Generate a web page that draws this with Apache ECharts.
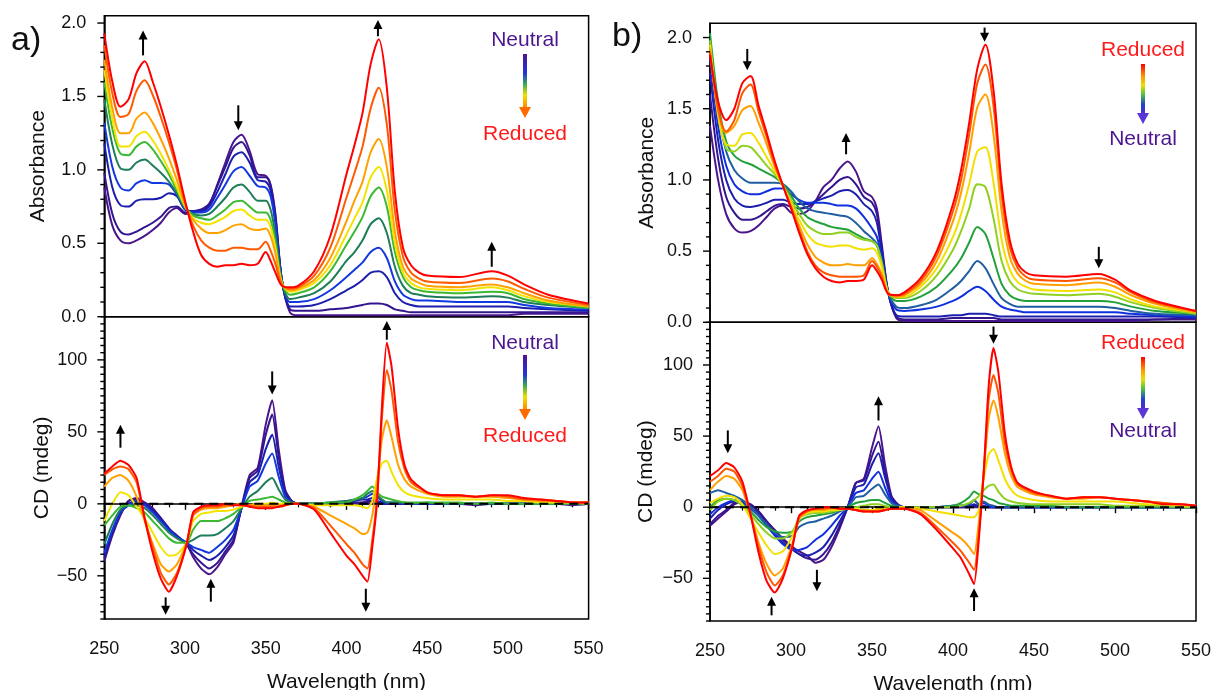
<!DOCTYPE html>
<html><head><meta charset="utf-8">
<script src="https://cdn.jsdelivr.net/npm/echarts@6/dist/echarts.min.js"></script>
<style>html,body{margin:0;padding:0;background:#fff}#c{width:1213px;height:690px}</style>
</head><body><div id="c"></div>
<script>
// ---------- wavelength grids ----------
const WL_ABS = [250,255,260,265,270,275,280,285,290,295,300,
  305,310,315,320,325,330,335,340,345,350,
  353,356,360,365,370,
  380,390,400,405,410,415,420,425,430,435,440,445,450,
  470,490,500,510,525,550];
const WL_CD = [250,255,260,265,270,275,280,285,290,295,301,
  305,310,315,320,325,330,335,340,345,350,
  354,358,362,366,370,
  380,390,400,405,410,
  413,416,419,422,425,428,
  432,436,440,
  450,460,470,480,490,500,510,520,530,540,550];

// ---------- panel a) absorbance, step 1 (neutral) -> step 10 (reduced) ----------
const absA1 = [0.88,0.62,0.52,0.50,0.52,0.55,0.59,0.64,0.71,0.74,0.70,
  0.71,0.72,0.76,0.90,1.05,1.19,1.24,1.13,0.97,0.96,
  0.90,0.70,0.25,0.03,0.01,
  0.01,0.01,0.01,0.01,0.01,0.01,0.01,0.01,0.01,0.01,0.01,0.01,0.01,
  0.01,0.01,0.01,0.02,0.02,0.02];
const absA2 = [0.98,0.70,0.58,0.56,0.58,0.61,0.64,0.68,0.74,0.75,0.71,
  0.72,0.73,0.77,0.89,1.02,1.15,1.19,1.10,0.95,0.95,
  0.89,0.68,0.25,0.05,0.04,
  0.04,0.05,0.06,0.07,0.08,0.09,0.09,0.08,0.05,0.04,0.03,0.03,0.03,
  0.03,0.03,0.03,0.03,0.03,0.03];
const absA3 = [1.18,0.88,0.76,0.75,0.79,0.80,0.80,0.81,0.84,0.82,0.73,
  0.72,0.72,0.75,0.85,0.97,1.09,1.12,1.05,0.93,0.92,
  0.86,0.66,0.25,0.07,0.07,
  0.08,0.12,0.18,0.21,0.25,0.30,0.31,0.27,0.16,0.10,0.08,0.07,0.07,
  0.07,0.07,0.07,0.06,0.05,0.04];
const absA4 = [1.32,1.02,0.88,0.86,0.91,0.93,0.91,0.91,0.90,0.83,0.73,
  0.71,0.71,0.73,0.81,0.90,0.99,1.02,0.96,0.89,0.88,
  0.82,0.63,0.25,0.10,0.10,
  0.12,0.18,0.27,0.32,0.37,0.44,0.47,0.40,0.24,0.15,0.12,0.11,0.11,
  0.10,0.10,0.10,0.08,0.06,0.05];
const absA5 = [1.48,1.17,1.01,1.00,1.05,1.07,1.03,0.98,0.92,0.84,0.74,
  0.70,0.69,0.70,0.75,0.81,0.88,0.90,0.85,0.79,0.79,
  0.73,0.56,0.24,0.12,0.13,
  0.16,0.24,0.38,0.44,0.52,0.63,0.67,0.57,0.34,0.21,0.16,0.15,0.14,
  0.13,0.14,0.13,0.10,0.08,0.06];
const absA6 = [1.60,1.28,1.11,1.10,1.16,1.19,1.14,1.06,0.97,0.86,0.75,
  0.69,0.67,0.66,0.69,0.73,0.78,0.79,0.75,0.71,0.71,
  0.66,0.51,0.23,0.15,0.16,
  0.20,0.31,0.49,0.58,0.68,0.82,0.88,0.75,0.44,0.27,0.20,0.18,0.17,
  0.16,0.17,0.16,0.12,0.09,0.06];
const absA7 = [1.68,1.35,1.16,1.16,1.23,1.26,1.20,1.11,1.00,0.88,0.75,
  0.67,0.64,0.63,0.65,0.68,0.72,0.73,0.69,0.66,0.66,
  0.61,0.47,0.23,0.17,0.18,
  0.23,0.35,0.56,0.67,0.78,0.95,1.02,0.86,0.50,0.30,0.23,0.20,0.19,
  0.18,0.20,0.18,0.14,0.10,0.07];
const absA8 = [1.75,1.42,1.25,1.25,1.35,1.39,1.32,1.21,1.08,0.93,0.76,
  0.66,0.60,0.57,0.57,0.59,0.62,0.63,0.60,0.59,0.60,
  0.55,0.43,0.22,0.18,0.19,
  0.25,0.40,0.65,0.79,0.92,1.12,1.21,1.02,0.58,0.34,0.26,0.23,0.21,
  0.20,0.22,0.20,0.16,0.11,0.07];
const absA9 = [1.85,1.52,1.36,1.38,1.54,1.61,1.51,1.36,1.19,1.00,0.78,
  0.62,0.52,0.47,0.45,0.45,0.47,0.47,0.46,0.46,0.51,
  0.45,0.36,0.22,0.19,0.20,
  0.28,0.47,0.81,0.98,1.16,1.42,1.56,1.31,0.72,0.41,0.30,0.26,0.24,
  0.23,0.26,0.24,0.19,0.13,0.08];
const absA10 = [1.93,1.60,1.43,1.48,1.66,1.74,1.60,1.43,1.24,1.03,0.79,
  0.58,0.42,0.36,0.34,0.35,0.35,0.36,0.35,0.36,0.44,
  0.38,0.30,0.21,0.20,0.21,
  0.31,0.55,0.97,1.17,1.39,1.72,1.89,1.56,0.85,0.47,0.35,0.30,0.28,
  0.27,0.31,0.28,0.22,0.15,0.09];

// ---------- panel a) CD ----------
const cdA1 = [-40,-22,-8,2,4,1,-3,-10,-17,-23,-28,
  -37,-45,-49,-44,-35,-27,-2,20,25,55,
  72,38,10,2,0,
  0,-1,0,0,1,
  1,0,0,0,0,0,
  0,0,0,
  0,0,0,-1,0,0,0,0,0,-1,0];
const cdA2 = [-38,-20,-6,2,3,0,-4,-10,-17,-22,-28,
  -35,-41,-45,-41,-33,-25,-3,18,23,48,
  62,33,9,2,0,
  0,0,0,1,1,
  2,2,1,0,0,0,
  0,0,0,
  0,0,0,0,0,0,0,0,0,0,0];
const cdA3 = [-36,-19,-6,0,2,0,-5,-11,-18,-23,-27,
  -32,-36,-39,-36,-30,-22,-3,15,20,38,
  48,26,7,2,0,
  0,0,1,2,3,
  3,4,2,1,0,0,
  0,0,0,
  0,0,0,0,0,0,0,0,0,0,0];
const cdA4 = [-34,-18,-6,-1,1,-1,-6,-12,-18,-23,-27,
  -30,-32,-34,-30,-25,-18,-3,12,16,28,
  35,19,5,1,0,
  0,1,2,3,4,
  5,7,5,2,1,1,
  1,0,0,
  0,0,0,0,0,0,0,0,0,0,0];
const cdA5 = [-28,-14,-4,-1,-1,-3,-8,-14,-20,-24,-27,
  -25,-22,-22,-21,-17,-12,-3,5,9,15,
  18,10,3,1,0,
  0,1,2,3,4,
  7,9,6,3,1,1,
  1,1,0,
  1,0,0,0,0,0,0,0,0,0,0];
const cdA6 = [-15,-8,-2,-1,-3,-6,-12,-18,-24,-27,-27,
  -18,-12,-12,-12,-10,-7,-2,2,3,4,
  5,3,1,0,0,
  0,1,1,3,6,
  9,12,8,5,4,3,
  2,1,1,
  1,1,1,0,1,0,0,0,0,0,0];
const cdA7 = [-12,0,8,6,-2,-10,-20,-30,-36,-35,-27,
  -12,-7,-6,-5,-5,-4,-2,-1,0,0,
  1,0,0,0,0,
  -1,-1,-1,-1,-2,
  -3,2,18,28,30,22,
  13,8,6,
  4,3,3,3,3,2,2,1,1,1,0];
const cdA8 = [12,18,20,16,5,-12,-28,-42,-47,-42,-27,
  -8,-4,-3,-3,-2,-1,0,-1,-1,-1,
  -1,-1,-1,0,0,
  -2,-8,-14,-17,-21,
  -20,-8,15,45,58,46,
  27,17,12,
  7,5,5,5,5,4,3,2,2,1,1];
const cdA9 = [20,24,26,24,15,-10,-30,-48,-56,-48,-28,
  -8,-3,-2,-2,-1,-1,0,-1,-2,-2,
  -2,-2,-1,0,0,
  -3,-15,-28,-34,-42,
  -45,-25,5,60,93,78,
  43,24,15,
  8,6,6,5,6,5,3,3,2,1,1];
const cdA10 = [21,26,30,27,18,-10,-34,-52,-61,-50,-28,
  -6,-2,-1,-1,0,-1,-1,-2,-3,-3,
  -3,-2,-1,0,0,
  -4,-20,-36,-42,-50,
  -54,-30,2,68,112,95,
  52,27,17,
  8,6,6,5,6,6,4,3,2,1,1];

// ---------- panel b) absorbance, step 1 (neutral) -> step 11 (reduced) ----------
const absB1 = [1.38,1.00,0.76,0.66,0.63,0.64,0.68,0.74,0.80,0.82,0.77,
  0.76,0.78,0.85,0.95,1.00,1.08,1.13,1.06,0.92,0.88,
  0.80,0.55,0.21,0.03,0.01,
  0.01,0.01,0.01,0.01,0.01,0.01,0.01,0.01,0.01,0.01,0.01,0.01,0.01,
  0.01,0.01,0.01,0.01,0.02,0.02];
const absB2 = [1.60,1.15,0.88,0.77,0.72,0.72,0.74,0.78,0.82,0.83,0.81,
  0.80,0.81,0.85,0.90,0.95,1.00,1.02,0.97,0.88,0.84,
  0.76,0.52,0.21,0.04,0.02,
  0.02,0.02,0.03,0.03,0.03,0.03,0.03,0.03,0.02,0.02,0.02,0.02,0.02,
  0.02,0.02,0.02,0.02,0.02,0.03];
const absB3 = [1.75,1.28,1.00,0.87,0.82,0.81,0.82,0.84,0.86,0.86,0.84,
  0.83,0.83,0.85,0.87,0.89,0.92,0.93,0.90,0.83,0.78,
  0.70,0.49,0.21,0.05,0.04,
  0.04,0.04,0.05,0.05,0.06,0.06,0.06,0.05,0.04,0.04,0.04,0.04,0.04,
  0.04,0.04,0.04,0.04,0.04,0.03];
const absB4 = [1.85,1.38,1.10,0.97,0.92,0.90,0.90,0.92,0.94,0.94,0.90,
  0.86,0.84,0.84,0.84,0.83,0.82,0.82,0.80,0.74,0.66,
  0.60,0.46,0.21,0.09,0.08,
  0.09,0.11,0.15,0.18,0.22,0.25,0.22,0.16,0.11,0.09,0.08,0.07,0.07,
  0.07,0.07,0.07,0.06,0.05,0.04];
const absB5 = [1.95,1.48,1.20,1.07,1.01,0.98,0.98,0.98,0.98,0.97,0.92,
  0.85,0.80,0.78,0.77,0.76,0.75,0.74,0.70,0.64,0.59,
  0.55,0.43,0.21,0.11,0.10,
  0.12,0.16,0.24,0.29,0.36,0.43,0.38,0.27,0.17,0.13,0.11,0.11,0.11,
  0.11,0.11,0.10,0.08,0.06,0.05];
const absB6 = [2.03,1.55,1.27,1.17,1.13,1.11,1.08,1.05,1.02,0.97,0.89,
  0.80,0.74,0.71,0.69,0.67,0.66,0.65,0.62,0.59,0.57,
  0.54,0.42,0.21,0.15,0.15,
  0.18,0.25,0.37,0.45,0.56,0.67,0.62,0.45,0.27,0.19,0.16,0.15,0.15,
  0.15,0.15,0.14,0.11,0.08,0.06];
const absB7 = [1.98,1.48,1.22,1.20,1.24,1.23,1.17,1.10,1.04,0.96,0.86,
  0.76,0.68,0.64,0.62,0.62,0.63,0.63,0.60,0.58,0.57,
  0.54,0.42,0.21,0.17,0.17,
  0.22,0.33,0.51,0.64,0.80,0.97,0.95,0.73,0.43,0.29,0.23,0.21,0.20,
  0.19,0.20,0.18,0.14,0.10,0.06];
const absB8 = [1.95,1.45,1.25,1.24,1.32,1.33,1.26,1.16,1.06,0.96,0.84,
  0.72,0.62,0.56,0.54,0.53,0.54,0.54,0.52,0.51,0.52,
  0.49,0.39,0.21,0.18,0.18,
  0.25,0.38,0.60,0.76,0.97,1.20,1.23,0.98,0.58,0.37,0.28,0.25,0.23,
  0.22,0.23,0.21,0.16,0.11,0.07];
const absB9 = [1.92,1.48,1.33,1.38,1.49,1.52,1.40,1.25,1.09,0.96,0.82,
  0.68,0.55,0.46,0.42,0.40,0.40,0.41,0.40,0.40,0.45,
  0.41,0.34,0.20,0.18,0.19,
  0.27,0.43,0.71,0.91,1.19,1.51,1.60,1.32,0.78,0.46,0.34,0.29,0.27,
  0.26,0.28,0.25,0.19,0.13,0.07];
const absB10 = [1.90,1.50,1.34,1.42,1.61,1.67,1.48,1.30,1.11,0.96,0.81,
  0.65,0.50,0.40,0.35,0.33,0.32,0.32,0.32,0.33,0.43,
  0.39,0.32,0.20,0.19,0.20,
  0.29,0.47,0.78,1.00,1.32,1.68,1.81,1.52,0.90,0.53,0.38,0.32,0.30,
  0.29,0.31,0.28,0.21,0.14,0.08];
const absB11 = [1.88,1.55,1.42,1.50,1.68,1.73,1.52,1.33,1.13,0.96,0.80,
  0.63,0.48,0.38,0.32,0.29,0.28,0.29,0.29,0.30,0.40,
  0.36,0.30,0.20,0.19,0.21,
  0.31,0.50,0.83,1.07,1.40,1.78,1.95,1.63,0.97,0.58,0.41,0.35,0.33,
  0.32,0.34,0.30,0.22,0.15,0.08];

// ---------- panel b) CD ----------
const cdB1 = [-13,-8,-3,2,4,2,-3,-10,-16,-22,-28,
  -31,-34,-39,-37,-28,-15,0,17,20,42,
  57,30,8,2,0,
  0,0,0,0,0,
  0,0,0,0,0,0,
  0,0,0,
  0,0,0,0,0,0,0,0,0,0,0];
const cdB2 = [-12,-6,-2,3,4,2,-3,-10,-17,-23,-29,
  -33,-36,-37,-33,-25,-13,0,17,19,36,
  46,25,7,1,0,
  0,0,0,0,0,
  1,0,0,0,0,0,
  0,0,0,
  0,0,0,0,0,0,0,0,0,0,0];
const cdB3 = [-8,-2,2,4,3,0,-5,-12,-19,-25,-30,
  -33,-34,-32,-28,-20,-10,0,14,16,30,
  38,21,6,1,0,
  0,0,0,1,1,
  2,1,1,0,0,0,
  0,0,0,
  0,0,0,0,0,0,0,0,0,0,0];
const cdB4 = [-5,0,3,5,3,-1,-6,-13,-20,-26,-30,
  -30,-28,-23,-19,-13,-6,0,10,12,20,
  25,14,4,1,0,
  0,0,1,1,2,
  5,2,3,1,0,0,
  0,0,0,
  0,0,0,0,0,0,0,0,0,0,0];
const cdB5 = [10,12,10,8,5,0,-6,-12,-18,-21,-20,
  -14,-11,-10,-8,-6,-3,0,7,8,13,
  16,9,3,1,0,
  0,0,1,1,2,
  5,2,4,2,1,0,
  0,0,0,
  0,0,0,0,0,0,0,0,0,0,0];
const cdB6 = [0,5,6,5,2,-3,-9,-14,-17,-18,-17,
  -10,-7,-6,-5,-4,-2,0,3,4,5,
  5,3,1,0,0,
  0,0,1,3,7,
  11,9,8,6,5,3,
  2,1,1,
  1,1,0,0,0,0,0,0,0,0,0];
const cdB7 = [-2,4,6,5,1,-5,-12,-18,-22,-22,-17,
  -8,-5,-4,-4,-3,-2,-1,0,1,2,
  2,1,0,0,0,
  0,0,0,1,3,
  5,8,12,15,16,11,
  6,4,3,
  2,2,2,2,2,1,1,1,1,0,0];
const cdB8 = [3,6,8,7,2,-8,-18,-27,-33,-31,-20,
  -8,-4,-3,-3,-2,-2,-1,-1,-2,-2,
  -1,-1,-1,0,0,
  -1,-3,-5,-6,-7,
  -7,-2,20,37,41,33,
  20,12,8,
  5,4,4,4,4,4,3,2,2,1,1];
const cdB9 = [12,18,22,20,12,-5,-25,-40,-48,-43,-25,
  -8,-3,-2,-2,-1,-1,-1,-2,-2,-3,
  -2,-2,-1,-1,0,
  -2,-10,-18,-22,-28,
  -33,-10,25,62,75,63,
  38,22,14,
  9,7,6,6,7,6,5,4,3,2,1];
const cdB10 = [18,22,27,25,15,-5,-28,-46,-55,-48,-27,
  -7,-3,-1,-1,0,-1,-1,-2,-3,-3,
  -3,-2,-1,-1,-1,
  -4,-14,-25,-31,-39,
  -44,-18,25,75,93,80,
  45,26,16,
  10,8,6,7,7,6,5,4,3,2,1];
const cdB11 = [22,26,31,28,18,-5,-32,-52,-60,-50,-27,
  -6,-2,-1,0,0,-1,-1,-2,-3,-3,
  -3,-2,-1,-1,-1,
  -5,-16,-29,-36,-47,
  -54,-22,25,85,112,95,
  52,28,17,
  11,8,6,7,7,6,5,4,2,2,1];

// ---------- arrows: [wavelength, tail value, tip value] ----------
const ARROWS_A_ABS = [[274,1.78,1.95],[333,1.44,1.27],[419.5,1.91,2.02],[490,0.34,0.51]];
const ARROWS_A_CD  = [[260,39,55],[288,-65,-77],[316,-68,-52],[354,92,76],[412,-59,-75],[425,114,127]];
const ARROWS_B_ABS = [[273,1.92,1.77],[334,1.18,1.33],[419.5,2.07,1.97],[490,0.53,0.38]];
const ARROWS_B_CD  = [[261,54,38],[288,-76,-63],[316,-44,-59],[354,61,78],[413,-73,-57],[425,127,115]];

// ---------- tick values ----------
const TICKS_ABS = [0,0.1,0.2,0.3,0.4,0.5,0.6,0.7,0.8,0.9,1.0,1.1,1.2,1.3,1.4,1.5,1.6,1.7,1.8,1.9,2.0];
const MAJOR_ABS = [0,0.5,1.0,1.5,2.0];
const TICKS_CD = [-80,-75,-70,-65,-60,-55,-50,-45,-40,-35,-30,-25,-20,-15,-10,-5,0,5,10,15,20,25,30,35,40,45,50,55,60,65,70,75,80,85,90,95,100,105,110,115,120,125,130];
const MAJOR_CD = [-50,0,50,100];

// ---------- styles ----------
const COLORS_A = ['#4a148c','#33168f','#1c1fae','#1238e0','#1d7d58','#3cb832','#f2e400','#ffa200','#ff5a00','#ff0000'];
const COLORS_B = ['#4a148c','#33168f','#1c1fae','#1030e0','#1f5ea0','#22a03a','#8fd020','#f2e000','#ffa000','#ff5500','#ff0000'];
const FONT = "'Liberation Sans', Arial, Helvetica, sans-serif";

const ABS_A = [absA1,absA2,absA3,absA4,absA5,absA6,absA7,absA8,absA9,absA10];
const CD_A = [cdA1,cdA2,cdA3,cdA4,cdA5,cdA6,cdA7,cdA8,cdA9,cdA10];
const ABS_B = [absB1,absB2,absB3,absB4,absB5,absB6,absB7,absB8,absB9,absB10,absB11];
const CD_B = [cdB1,cdB2,cdB3,cdB4,cdB5,cdB6,cdB7,cdB8,cdB9,cdB10,cdB11];

const chart = echarts.init(document.getElementById('c'), null, {renderer:'canvas'});

function lineSeries(wl, arr, color, idx, z, smooth) {
  return {type:'line', xAxisIndex:idx, yAxisIndex:idx, data: wl.map((w,i)=>[w, arr[i]]),
    showSymbol:false, symbol:'none', smooth: smooth, silent:true, z: z,
    lineStyle:{color: color, width:2}, itemStyle:{color: color}};
}
function arrowSeries(list, idx) {
  return {type:'custom', xAxisIndex:idx, yAxisIndex:idx, clip:false, silent:true, z:60,
    encode:{x:0, y:[1,2]}, data: list,
    renderItem: function(params, api) {
      const x = api.value(0), a = api.value(1), b = api.value(2);
      const p1 = api.coord([x,a]), p2 = api.coord([x,b]);
      const dir = p2[1] < p1[1] ? -1 : 1;
      const hl = 9, hw = 4.5;
      return {type:'group', children:[
        {type:'line', shape:{x1:p1[0], y1:p1[1], x2:p2[0], y2:p2[1]-dir*hl*0.7}, style:{stroke:'#000', lineWidth:2}},
        {type:'polygon', shape:{points:[[p2[0],p2[1]],[p2[0]-hw,p2[1]-dir*hl],[p2[0]+hw,p2[1]-dir*hl]]}, style:{fill:'#000'}}
      ]};
    }};
}
function tickSeries(vals, majors, idx) {
  return {type:'custom', xAxisIndex:idx, yAxisIndex:idx, clip:false, silent:true, z:40,
    encode:{x:0, y:1},
    data: vals.map(v => [250, v, majors.some(m => Math.abs(m-v) < 1e-9) ? 1 : 0]),
    renderItem: function(params, api) {
      const p = api.coord([api.value(0), api.value(1)]);
      const len = api.value(2) ? 7 : 4;
      return {type:'line', shape:{x1:p[0]-len, y1:p[1], x2:p[0], y2:p[1]}, style:{stroke:'#000', lineWidth:1.4}};
    }};
}

const series = [];
ABS_A.forEach((arr,i)=>series.push(lineSeries(WL_ABS, arr, COLORS_A[i], 0, 10+i, 0.3)));
CD_A.forEach((arr,i)=>series.push(lineSeries(WL_CD, arr, COLORS_A[i], 1, 10+i, 0.2)));
ABS_B.forEach((arr,i)=>series.push(lineSeries(WL_ABS, arr, COLORS_B[i], 2, 10+i, 0.3)));
CD_B.forEach((arr,i)=>series.push(lineSeries(WL_CD, arr, COLORS_B[i], 3, 10+i, 0.2)));
// dashed zero lines on CD panels
[1,3].forEach(idx => series.push({type:'line', xAxisIndex:idx, yAxisIndex:idx, data:[[250,0],[550,0]],
  showSymbol:false, symbol:'none', silent:true, z:30, lineStyle:{color:'#000', width:2, type:[9,6]}}));
series.push(arrowSeries(ARROWS_A_ABS,0), arrowSeries(ARROWS_A_CD,1), arrowSeries(ARROWS_B_ABS,2), arrowSeries(ARROWS_B_CD,3));
series.push(tickSeries(TICKS_ABS, MAJOR_ABS, 0), tickSeries(TICKS_CD, MAJOR_CD, 1), tickSeries(TICKS_ABS, MAJOR_ABS, 2), tickSeries(TICKS_CD, MAJOR_CD, 3));

const grids = [
  {left:104.3, top:15.7, width:484.3, height:301},
  {left:104.3, top:316.7, width:484.3, height:302.3},
  {left:710, top:23.3, width:486, height:299},
  {left:710, top:322.3, width:486, height:298.7}
].map(g => Object.assign({show:true, borderColor:'#000', borderWidth:1.5, backgroundColor:'transparent', containLabel:false, outerBoundsMode:'none'}, g));

function xAxisTop(idx) {
  return {type:'value', gridIndex:idx, min:250, max:550, interval:50,
    axisLine:{show:false}, axisTick:{show:false}, axisLabel:{show:false}, splitLine:{show:false}};
}
function xAxisCD(idx) {
  return {type:'value', gridIndex:idx, min:250, max:550, interval:50,
    name:'Wavelength (nm)', nameLocation:'middle', nameGap:53,
    nameTextStyle:{fontSize:21, color:'#111', fontFamily:FONT},
    axisLine:{show:true, lineStyle:{color:'#000', width:1.5}},
    axisTick:{show:true, inside:false, length:6, lineStyle:{color:'#000', width:1.4}},
    minorTick:{show:true, splitNumber:5, length:3.5, lineStyle:{color:'#000', width:1.2}},
    axisLabel:{fontSize:18, color:'#111', margin:21, fontFamily:FONT},
    splitLine:{show:false}, minorSplitLine:{show:false}};
}
function yAxisAbs(idx, max, gap) {
  return {type:'value', gridIndex:idx, min:0, max:max, interval:0.5,
    name:'Absorbance', nameLocation:'middle', nameGap:gap,
    nameTextStyle:{fontSize:21, color:'#111', fontFamily:FONT},
    axisLine:{show:true, lineStyle:{color:'#000', width:1.5}},
    axisTick:{show:false}, minorTick:{show:false}, splitLine:{show:false},
    axisLabel:{fontSize:18, color:'#111', margin:18, fontFamily:FONT, showMaxLabel:false,
      formatter: v => (v <= 2.0001 && Math.abs(v*2 - Math.round(v*2)) < 1e-6) ? v.toFixed(1) : ''}};
}
function yAxisCD(idx, gap) {
  return {type:'value', gridIndex:idx, min:-80, max:130, interval:10,
    name:'CD (mdeg)', nameLocation:'middle', nameGap:gap,
    nameTextStyle:{fontSize:21, color:'#111', fontFamily:FONT},
    axisLine:{show:true, lineStyle:{color:'#000', width:1.5}},
    axisTick:{show:false}, minorTick:{show:false}, splitLine:{show:false},
    axisLabel:{fontSize:18, color:'#111', margin:17, fontFamily:FONT,
      formatter: v => (Math.round(v) % 50 === 0) ? (v < 0 ? '\u2212' + Math.abs(v) : String(v)) : ''}};
}

function legendGroup(cx, textTop, colorTop, textBot, colorBot, shaftTop, shaftBot, stops, headColor) {
  return [
    {type:'text', x:cx, y:textTop.y, style:{text:textTop.t, fill:colorTop, fontSize:21, fontFamily:FONT, align:'center', verticalAlign:'middle'}, z:100},
    {type:'rect', shape:{x:cx-2, y:shaftTop, width:4, height:shaftBot-shaftTop}, style:{fill:{type:'linear', x:0, y:0, x2:0, y2:1, colorStops:stops}}, z:100},
    {type:'polygon', shape:{points:[[cx-6, shaftBot-2],[cx+6, shaftBot-2],[cx, shaftBot+9]]}, style:{fill:headColor}, z:100},
    {type:'text', x:cx, y:textBot.y, style:{text:textBot.t, fill:colorBot, fontSize:21, fontFamily:FONT, align:'center', verticalAlign:'middle'}, z:100}
  ];
}
const PURPLE_TXT = '#4b1590', RED_TXT = '#ff1a1a';
const STOPS_A = [{offset:0,color:'#4b1590'},{offset:0.35,color:'#2233dd'},{offset:0.55,color:'#3caa50'},{offset:0.75,color:'#f0e000'},{offset:1,color:'#ff8000'}];
const STOPS_B = [{offset:0,color:'#ff0000'},{offset:0.25,color:'#ff9a00'},{offset:0.42,color:'#e8e000'},{offset:0.6,color:'#4cc040'},{offset:0.8,color:'#2040d0'},{offset:1,color:'#5a2ad0'}];

const graphic = [].concat(
  [{type:'text', x:11, y:41, style:{text:'a)', fontSize:34, fill:'#111', fontFamily:FONT, verticalAlign:'middle'}},
   {type:'text', x:612, y:37, style:{text:'b)', fontSize:34, fill:'#111', fontFamily:FONT, verticalAlign:'middle'}}],
  legendGroup(525, {t:'Neutral', y:40}, PURPLE_TXT, {t:'Reduced', y:134}, RED_TXT, 54, 109, STOPS_A, '#ff6a00'),
  legendGroup(525, {t:'Neutral', y:343}, PURPLE_TXT, {t:'Reduced', y:436}, RED_TXT, 355, 411, STOPS_A, '#ff6a00'),
  legendGroup(1143, {t:'Reduced', y:50}, RED_TXT, {t:'Neutral', y:139}, PURPLE_TXT, 64, 115, STOPS_B, '#5b35d5'),
  legendGroup(1143, {t:'Reduced', y:343}, RED_TXT, {t:'Neutral', y:431}, PURPLE_TXT, 357, 410, STOPS_B, '#5b35d5')
);

chart.setOption({
  animation:false,
  backgroundColor:'#fff',
  textStyle:{fontFamily:FONT},
  grid: grids,
  xAxis:[xAxisTop(0), xAxisCD(1), xAxisTop(2), xAxisCD(3)],
  yAxis:[yAxisAbs(0, 2.05, 56), yAxisCD(1, 49), yAxisAbs(2, 2.1, 52), yAxisCD(3, 53)],
  series: series,
  graphic: graphic
});
</script>
</body></html>
